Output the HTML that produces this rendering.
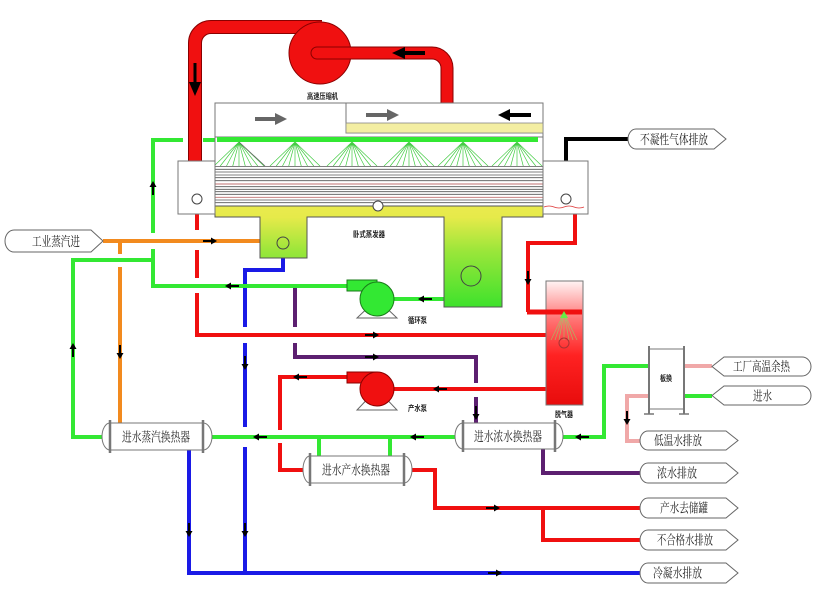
<!DOCTYPE html>
<html><head><meta charset="utf-8">
<style>
html,body{margin:0;padding:0;background:#fff;}
svg{display:block;}
.t{font-family:"Liberation Serif","Noto Serif CJK SC",serif;font-size:13px;fill:#222;}
.s{font-family:"Liberation Sans","Noto Sans CJK SC",sans-serif;font-size:8px;font-weight:bold;fill:#222;}
</style></head><body>
<svg width="827" height="599" viewBox="0 0 827 599" xmlns="http://www.w3.org/2000/svg">
<defs>
 <linearGradient id="evg" x1="0" y1="205" x2="0" y2="307" gradientUnits="userSpaceOnUse">
  <stop offset="0" stop-color="#eaea4e"/>
  <stop offset="0.12" stop-color="#e6ea4a"/>
  <stop offset="0.45" stop-color="#9be63a"/>
  <stop offset="1" stop-color="#3ee22c"/>
 </linearGradient>
 <linearGradient id="tank" x1="0" y1="0" x2="0" y2="1">
  <stop offset="0" stop-color="#fff4f4"/>
  <stop offset="0.3" stop-color="#f77"/>
  <stop offset="0.6" stop-color="#f22"/>
  <stop offset="1" stop-color="#e80c0c"/>
 </linearGradient>
 <g id="cone" fill="none" stroke="#4c4" stroke-width="0.7"><path d="M0,0L-25,24M0,0L-18.75,24M0,0L-12.5,24M0,0L-6.25,24M0,0L0,24M0,0L6.25,24M0,0L12.5,24M0,0L18.75,24M0,0L25,24"/></g>
 <g id="ar"><path d="M-7,0H2" stroke="#000" stroke-width="2"/><path d="M7,0L1,-3.5L1,3.5Z" fill="#000"/></g>
</defs>

<!-- compressor pipes -->
<path d="M195,161V43A16,16 0 0 1 211,27H322" fill="none" stroke="#8a0000" stroke-width="14"/>
<path d="M195,161V43A16,16 0 0 1 211,27H322" fill="none" stroke="#f01010" stroke-width="12"/>
<circle cx="320" cy="53" r="31" fill="#f01010" stroke="#8a0000" stroke-width="1"/>
<path d="M317,53H432A15,15 0 0 1 447,68V108" fill="none" stroke="#8a0000" stroke-width="13" stroke-linecap="round"/>
<path d="M317,53H432A15,15 0 0 1 447,68V108" fill="none" stroke="#f01010" stroke-width="11" stroke-linecap="round"/>
<path d="M195,63V84" stroke="#000" stroke-width="3"/>
<path d="M189,82L201,82L195,96Z" fill="#000"/>
<path d="M404,53H425" stroke="#000" stroke-width="4"/>
<path d="M392,53L405,47L405,59Z" fill="#000"/>
<text class="s" x="307" y="99" textLength="31" lengthAdjust="spacingAndGlyphs">高速压缩机</text>

<!-- pipes -->
<g fill="none" stroke-width="4">
 <!-- blue -->
 <path stroke="#1a1ae6" d="M283,256V270H245V327M245,343V427M245,447V573"/>
 <path stroke="#1a1ae6" d="M189,450V573H640"/>
 <!-- purple -->
 <path stroke="#5c1f70" d="M295,286V327M295,343V357H476V383M476,397V423"/>
 <path stroke="#5c1f70" d="M543,449V473H640"/>
 <!-- red thin -->
 <path stroke="#f01010" d="M197,214V230M197,250V278M197,293V335H546"/>
 <path stroke="#f01010" d="M575,213V243H528V312"/>
 <path stroke="#f01010" d="M546,389H394"/>
 <path stroke="#f01010" d="M347,377H280V430M280,443V470H303"/>
 <path stroke="#f01010" d="M412,470H435V508H640M543,508V540H640"/>
 <!-- orange -->
 <path stroke="#f28a1e" d="M103,241H261M120,241V254M120,267V423"/>
 <!-- green -->
 <path stroke="#33e833" d="M183,140H153V233M153,249V286H347"/>
 <path stroke="#33e833" d="M203,140H216"/>
 <path stroke="#33e833" d="M153,260H73V437H102"/>
 <path stroke="#33e833" d="M455,437H212M319,437V456M390,437V456"/>
 <path stroke="#33e833" d="M563,437H604V366H649"/>
 <path stroke="#33e833" d="M684,396H712"/>
 <path stroke="#33e833" d="M444,299H394"/>
 <!-- pink -->
 <path stroke="#f0a8a8" d="M684,366H712M649,396H627V441H640"/>
 <!-- black -->
 <path stroke="#000" d="M566,161V139H628"/>
</g>

<!-- small arrows -->
<use href="#ar" transform="translate(232,286) rotate(180)"/>
<use href="#ar" transform="translate(425,299) rotate(180)"/>
<use href="#ar" transform="translate(417,437) rotate(180)"/>
<use href="#ar" transform="translate(260,437) rotate(180)"/>
<use href="#ar" transform="translate(582,437) rotate(180)"/>
<use href="#ar" transform="translate(73,350) rotate(-90)"/>
<use href="#ar" transform="translate(153,188) rotate(-90)"/>
<use href="#ar" transform="translate(210,241)"/>
<use href="#ar" transform="translate(120,352) rotate(90)"/>
<use href="#ar" transform="translate(372,335)"/>
<use href="#ar" transform="translate(528,278) rotate(90)"/>
<use href="#ar" transform="translate(440,389) rotate(180)"/>
<use href="#ar" transform="translate(300,377) rotate(180)"/>
<use href="#ar" transform="translate(493,508)"/>
<use href="#ar" transform="translate(245,363) rotate(90)"/>
<use href="#ar" transform="translate(245,530) rotate(90)"/>
<use href="#ar" transform="translate(189,530) rotate(90)"/>
<use href="#ar" transform="translate(495,573)"/>
<use href="#ar" transform="translate(372,357)"/>
<use href="#ar" transform="translate(476,413) rotate(90)"/>
<use href="#ar" transform="translate(627,418) rotate(90)"/>

<!-- evaporator -->
<rect x="215" y="103" width="328" height="34" fill="#fff" stroke="#777"/>
<rect x="346" y="103" width="197" height="30" fill="#fff" stroke="#777"/>
<rect x="346" y="123" width="197" height="10" fill="#f3eea2" stroke="#888" stroke-width="0.8"/>
<path d="M255,119H276" stroke="#666" stroke-width="4"/><path d="M275,113L287,119L275,125Z" fill="#666"/>
<path d="M366,115H388" stroke="#666" stroke-width="4"/><path d="M387,109L399,115L387,121Z" fill="#666"/>
<path d="M509,115H531" stroke="#000" stroke-width="4"/><path d="M498,115L510,109L510,121Z" fill="#000"/>
<rect x="215" y="137" width="328" height="70" fill="#fff" stroke="#777"/>
<rect x="217" y="137" width="321" height="5" fill="#33e833"/>
<use href="#cone" transform="translate(239,142)"/>
<use href="#cone" transform="translate(295,142)"/>
<use href="#cone" transform="translate(352,142)"/>
<use href="#cone" transform="translate(409,142)"/>
<use href="#cone" transform="translate(463,142)"/>
<use href="#cone" transform="translate(517,142)"/>
<path d="M239,142L265,166" stroke="#666" stroke-width="0.8"/>
<g stroke="#555" stroke-width="0.8">
 <path d="M215,166.5H543M215,169.3H543M215,172H543M215,175H543M215,177.7H543M215,180.7H543M215,186.7H543M215,189.3H543M215,191.7H543M215,194.3H543M215,200H543M215,202.7H543"/>
</g>
<path d="M215,184H543M215,197.3H543" stroke="#c07070" stroke-width="0.9"/>
<path d="M215,206H543V217H502V307H444V217H307V258H260V217H215Z" fill="url(#evg)" stroke="#555"/>
<circle cx="378" cy="206" r="5" fill="#fff" stroke="#444"/>
<circle cx="283" cy="243" r="6" fill="none" stroke="#444"/>
<circle cx="471" cy="276" r="10" fill="none" stroke="#444"/>
<text class="s" x="353" y="237" textLength="32" lengthAdjust="spacingAndGlyphs">卧式蒸发器</text>

<!-- headers -->
<rect x="178" y="161" width="37" height="53" fill="#fff" stroke="#777"/>
<circle cx="197" cy="199" r="5" fill="#fff" stroke="#444"/>
<rect x="543" y="161" width="45" height="53" fill="#fff" stroke="#777"/>
<circle cx="566" cy="199" r="5" fill="#fff" stroke="#444"/>
<path d="M544,207q5,-2 10,0t10,0t10,0t10,0" fill="none" stroke="#d33" stroke-width="0.8"/>

<!-- tank -->
<rect x="546" y="281" width="37" height="124" fill="url(#tank)" stroke="#777"/>
<g stroke="#9c6" stroke-width="0.7" opacity="0.8">
 <path d="M564,313L551,340M564,313L555,340M564,313L559,340M564,313L564,340M564,313L569,340M564,313L573,340M564,313L577,340"/>
</g>
<path d="M527,312H582" stroke="#f01010" stroke-width="5"/>
<path d="M560,318L564,311L568,318Z" fill="#6e4"/>
<circle cx="564" cy="343" r="5" fill="none" stroke="#a33"/>
<text class="s" x="555" y="417" textLength="18" lengthAdjust="spacingAndGlyphs">脱气器</text>

<!-- pumps -->
<path d="M377,299L357,318H397Z" fill="#fff" stroke="#666"/>
<rect x="347" y="280" width="30" height="11" fill="#33e833" stroke="#1a7a1a"/>
<circle cx="377" cy="299" r="17" fill="#33e833" stroke="#1a7a1a"/>
<text class="s" x="408" y="323" textLength="19" lengthAdjust="spacingAndGlyphs">循环泵</text>
<path d="M377,389L357,410H397Z" fill="#fff" stroke="#666"/>
<rect x="347" y="372" width="30" height="11" fill="#f01010" stroke="#8a0000"/>
<circle cx="377" cy="389" r="17" fill="#f01010" stroke="#8a0000"/>
<text class="s" x="408" y="411" textLength="19" lengthAdjust="spacingAndGlyphs">产水泵</text>

<!-- plate HX -->
<rect x="649" y="349" width="35" height="60" fill="#fff" stroke="#777"/>
<path d="M649,346V414M684,346V414" stroke="#777" stroke-width="2"/>
<path d="M644,414H654M679,414H689" stroke="#777" stroke-width="1.5"/>
<text class="s" x="660" y="381" textLength="12" lengthAdjust="spacingAndGlyphs">板换</text>

<!-- heat exchangers -->
<g fill="#fff" stroke="#777">
 <path d="M110,423A8,13.5 0 0 0 110,450Z"/>
 <path d="M203,423A9,13.5 0 0 1 203,450Z"/>
 <rect x="110" y="423" width="93" height="27"/>
 <path d="M303+0,0" stroke="none"/>
 <path d="M310,456A7,13.5 0 0 0 310,483Z"/>
 <path d="M404,456A8,13.5 0 0 1 404,483Z"/>
 <rect x="310" y="456" width="94" height="27"/>
 <path d="M463,423A8,13 0 0 0 463,449Z"/>
 <path d="M555,423A8,13 0 0 1 555,449Z"/>
 <rect x="463" y="423" width="92" height="26"/>
</g>
<path d="M110,420V453M203,420V453M310,453V486M404,453V486M463,420V452M555,420V452" stroke="#777" stroke-width="2.5"/>
<text class="t" x="122" y="441.5" textLength="68" lengthAdjust="spacingAndGlyphs">进水蒸汽换热器</text>
<text class="t" x="322" y="474.5" textLength="68" lengthAdjust="spacingAndGlyphs">进水产水换热器</text>
<text class="t" x="474" y="441" textLength="68" lengthAdjust="spacingAndGlyphs">进水浓水换热器</text>

<!-- labels -->
<g fill="#fff" stroke="#666">
 <path d="M14,230H91L103,241L91,252H14A9,11 0 0 1 14,230Z"/>
 <path d="M636,129H714L726,139L714,149H636A8,10 0 0 1 636,129Z"/>
 <path d="M712,366.5L724,357H802A9,9.5 0 0 1 802,376H724Z"/>
 <path d="M712,395.5L724,386H802A9,9.5 0 0 1 802,405H724Z"/>
 <path d="M648,431H726L738,440.5L726,450H648A8,9.5 0 0 1 648,431Z"/>
 <path d="M648,463H726L738,473L726,483H648A8,10 0 0 1 648,463Z"/>
 <path d="M648,498H726L738,508L726,518H648A8,10 0 0 1 648,498Z"/>
 <path d="M648,530H726L738,540L726,550H648A8,10 0 0 1 648,530Z"/>
 <path d="M648,563H726L738,573L726,583H648A8,10 0 0 1 648,563Z"/>
</g>
<text class="t" x="32" y="246" textLength="48" lengthAdjust="spacingAndGlyphs">工业蒸汽进</text>
<text class="t" x="640" y="144" textLength="68" lengthAdjust="spacingAndGlyphs">不凝性气体排放</text>
<text class="t" x="733" y="371" textLength="57" lengthAdjust="spacingAndGlyphs">工厂高温余热</text>
<text class="t" x="753" y="400.5" textLength="19" lengthAdjust="spacingAndGlyphs">进水</text>
<text class="t" x="654" y="445" textLength="48" lengthAdjust="spacingAndGlyphs">低温水排放</text>
<text class="t" x="657" y="477.5" textLength="40" lengthAdjust="spacingAndGlyphs">浓水排放</text>
<text class="t" x="660" y="512.5" textLength="48" lengthAdjust="spacingAndGlyphs">产水去储罐</text>
<text class="t" x="657" y="544.5" textLength="56" lengthAdjust="spacingAndGlyphs">不合格水排放</text>
<text class="t" x="653" y="577.5" textLength="49" lengthAdjust="spacingAndGlyphs">冷凝水排放</text>
</svg>
</body></html>
